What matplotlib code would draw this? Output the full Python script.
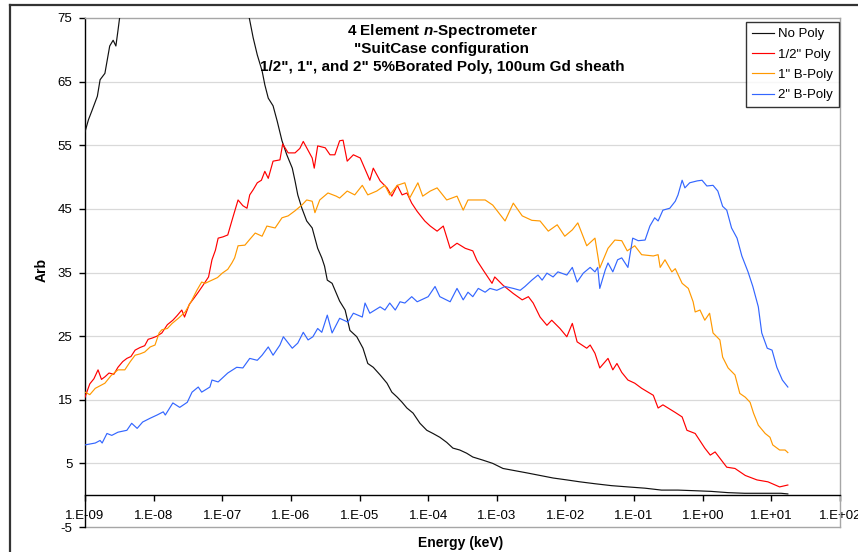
import matplotlib
matplotlib.use("Agg")
import matplotlib.pyplot as plt
from matplotlib.lines import Line2D
from matplotlib.ticker import NullLocator, FixedLocator, FixedFormatter
import numpy as np

plt.rcParams['font.family'] = ['Liberation Sans', 'DejaVu Sans']
plt.rcParams['mathtext.fontset'] = 'custom'
plt.rcParams['mathtext.it'] = 'Liberation Sans:italic:bold'
plt.rcParams['mathtext.rm'] = 'Liberation Sans:bold'
plt.rcParams['axes.unicode_minus'] = False

# ---- spectra: log10(energy / keV) and counts (arb. units) ----
nopoly_log_e = [-9.00, -8.95, -8.90, -8.82, -8.78, -8.71, -8.64, -8.59, -8.55, -8.52,
                -8.49, -8.40, -6.70, -6.61, -6.55, -6.49, -6.42, -6.38, -6.33, -6.26,
                -6.20, -6.13, -6.06, -5.98, -5.94, -5.90, -5.84, -5.77, -5.69, -5.65,
                -5.61, -5.55, -5.51, -5.47, -5.40, -5.29, -5.21, -5.14, -5.04, -4.95,
                -4.88, -4.80, -4.70, -4.60, -4.53, -4.45, -4.38, -4.31, -4.22, -4.12,
                -4.02, -3.93, -3.83, -3.73, -3.64, -3.54, -3.44, -3.35, -3.20, -3.06,
                -2.91, -2.76, -2.56, -2.37, -2.18, -1.98, -1.79, -1.57, -1.33, -1.09,
                -0.84, -0.60, -0.36, -0.11, 0.12, 0.37, 0.61, 0.85, 1.14, 1.24]
nopoly_arb = [57.1, 59.0, 60.4, 62.7, 65.3, 66.3, 70.6, 71.5, 70.6, 73.0,
              75.5, 80.0, 80.0, 75.2, 71.9, 69.2, 66.7, 64.5, 62.4, 61.2,
              58.8, 55.7, 53.5, 51.4, 49.4, 47.2, 45.1, 43.1, 42.0, 40.4,
              38.8, 37.3, 36.0, 33.8, 33.3, 30.5, 29.1, 25.9, 24.9, 23.1,
              20.7, 20.1, 18.9, 17.6, 16.2, 15.4, 14.6, 13.7, 12.9, 11.3,
              10.2, 9.7, 9.1, 8.3, 7.4, 7.1, 6.6, 6.0, 5.5, 5.0,
              4.2, 3.9, 3.5, 3.1, 2.7, 2.4, 2.1, 1.8, 1.5, 1.3,
              1.1, 0.8, 0.8, 0.7, 0.6, 0.4, 0.3, 0.3, 0.3, 0.2]

half_log_e = [-9.00, -8.93, -8.87, -8.81, -8.76, -8.71, -8.65, -8.58, -8.52, -8.45,
              -8.39, -8.33, -8.27, -8.20, -8.13, -8.08, -8.02, -7.95, -7.88, -7.80,
              -7.72, -7.66, -7.59, -7.55, -7.48, -7.41, -7.35, -7.28, -7.20, -7.15,
              -7.10, -7.06, -6.99, -6.92, -6.85, -6.77, -6.70, -6.64, -6.60, -6.55,
              -6.49, -6.43, -6.38, -6.33, -6.26, -6.16, -6.12, -6.04, -5.94, -5.87,
              -5.82, -5.75, -5.69, -5.66, -5.61, -5.50, -5.43, -5.36, -5.29, -5.24,
              -5.18, -5.09, -4.99, -4.95, -4.85, -4.80, -4.70, -4.60, -4.53, -4.45,
              -4.38, -4.31, -4.24, -4.16, -4.05, -3.97, -3.87, -3.78, -3.68, -3.58,
              -3.46, -3.35, -3.29, -3.20, -3.07, -3.03, -2.91, -2.76, -2.63, -2.54,
              -2.47, -2.37, -2.27, -2.20, -2.08, -1.98, -1.90, -1.83, -1.69, -1.64,
              -1.57, -1.50, -1.38, -1.31, -1.25, -1.18, -1.09, -0.99, -0.89, -0.72,
              -0.65, -0.58, -0.40, -0.30, -0.23, -0.11, 0.03, 0.11, 0.18, 0.35,
              0.47, 0.62, 0.79, 0.95, 1.12, 1.24]
half_arb = [15.4, 17.5, 18.3, 19.7, 18.2, 18.6, 19.2, 19.0, 20.1, 21.0,
            21.5, 21.8, 22.8, 23.2, 23.5, 24.5, 24.7, 25.0, 25.5, 26.8,
            27.5, 28.2, 29.1, 28.0, 30.0, 31.0, 31.9, 33.0, 34.3, 37.0,
            38.5, 40.4, 40.6, 40.9, 43.5, 46.4, 45.5, 45.1, 47.2, 48.0,
            49.1, 49.5, 50.9, 49.8, 52.5, 52.7, 55.2, 53.8, 53.8, 54.5,
            55.6, 54.2, 53.0, 51.4, 54.9, 54.6, 53.5, 53.5, 55.7, 55.8,
            52.5, 53.5, 53.0, 52.0, 49.5, 51.4, 49.4, 48.3, 47.0, 48.7,
            47.2, 47.5, 45.9, 44.6, 43.1, 42.3, 41.5, 42.3, 38.8, 39.6,
            38.8, 38.4, 36.9, 35.4, 33.3, 34.3, 33.0, 31.7, 30.7, 31.2,
            30.2, 28.0, 26.7, 27.5, 26.2, 24.9, 27.0, 24.1, 23.1, 23.6,
            22.3, 20.0, 21.5, 19.7, 20.7, 19.3, 18.1, 17.6, 16.8, 15.7,
            13.7, 14.2, 13.0, 12.3, 10.2, 9.7, 7.4, 6.3, 6.8, 4.4,
            4.2, 3.1, 2.4, 2.1, 1.3, 1.6]

one_log_e = [-9.00, -8.93, -8.85, -8.78, -8.71, -8.62, -8.52, -8.42, -8.34, -8.27,
             -8.20, -8.13, -8.05, -7.98, -7.92, -7.88, -7.80, -7.73, -7.64, -7.54,
             -7.45, -7.37, -7.30, -7.25, -7.15, -7.07, -7.00, -6.92, -6.86, -6.82,
             -6.77, -6.67, -6.60, -6.52, -6.42, -6.35, -6.23, -6.13, -6.04, -5.94,
             -5.84, -5.77, -5.69, -5.65, -5.58, -5.46, -5.34, -5.29, -5.18, -5.07,
             -4.96, -4.88, -4.75, -4.63, -4.56, -4.45, -4.34, -4.27, -4.15, -4.08,
             -3.97, -3.87, -3.73, -3.58, -3.49, -3.42, -3.29, -3.17, -3.06, -2.88,
             -2.76, -2.63, -2.49, -2.37, -2.25, -2.12, -2.01, -1.90, -1.82, -1.69,
             -1.57, -1.50, -1.38, -1.28, -1.18, -1.10, -0.99, -0.89, -0.72, -0.65,
             -0.62, -0.55, -0.45, -0.40, -0.30, -0.21, -0.14, -0.11, -0.04, 0.03,
             0.10, 0.15, 0.25, 0.29, 0.37, 0.47, 0.54, 0.62, 0.69, 0.74,
             0.81, 0.91, 0.98, 1.02, 1.12, 1.20, 1.24]
one_arb = [16.2, 15.8, 16.8, 17.2, 17.6, 18.8, 19.7, 19.7, 21.0, 22.0,
           22.2, 22.5, 23.3, 23.6, 25.5, 26.0, 26.2, 27.0, 27.8, 28.8,
           30.5, 32.2, 33.5, 33.3, 33.8, 34.2, 34.9, 35.5, 36.5, 37.3,
           39.2, 39.3, 40.2, 41.2, 40.7, 42.3, 42.0, 43.6, 43.9, 44.7,
           45.6, 46.4, 46.2, 44.4, 46.4, 47.5, 47.0, 46.7, 47.8, 47.2,
           48.7, 47.2, 47.8, 48.7, 47.2, 48.7, 49.1, 46.7, 49.1, 47.0,
           47.8, 48.3, 46.4, 47.0, 44.8, 46.4, 46.4, 46.4, 45.6, 43.1,
           45.9, 43.9, 43.2, 43.1, 41.5, 42.5, 40.7, 41.7, 42.8, 39.2,
           40.4, 35.7, 38.8, 40.1, 40.0, 38.4, 39.2, 37.8, 37.6, 37.8,
           35.8, 37.0, 35.1, 35.6, 33.3, 32.5, 30.4, 28.8, 29.1, 27.5,
           28.6, 25.5, 24.4, 21.7, 20.0, 18.9, 16.0, 15.4, 14.6, 12.9,
           11.0, 9.7, 9.1, 7.9, 7.1, 7.1, 6.7]

two_log_e = [-9.00, -8.85, -8.78, -8.75, -8.68, -8.61, -8.52, -8.39, -8.32, -8.24,
             -8.16, -8.05, -7.95, -7.86, -7.83, -7.72, -7.62, -7.51, -7.44, -7.35,
             -7.30, -7.18, -7.15, -7.06, -6.92, -6.79, -6.70, -6.60, -6.49, -6.42,
             -6.33, -6.26, -6.16, -6.11, -5.98, -5.90, -5.82, -5.75, -5.68, -5.61,
             -5.55, -5.47, -5.40, -5.29, -5.17, -5.09, -4.96, -4.92, -4.85, -4.70,
             -4.63, -4.56, -4.48, -4.41, -4.34, -4.24, -4.16, -4.00, -3.90, -3.83,
             -3.68, -3.58, -3.49, -3.42, -3.35, -3.27, -3.17, -3.10, -3.00, -2.88,
             -2.76, -2.66, -2.59, -2.49, -2.40, -2.34, -2.27, -2.18, -2.11, -1.98,
             -1.90, -1.83, -1.74, -1.64, -1.57, -1.53, -1.50, -1.42, -1.38, -1.31,
             -1.24, -1.18, -1.09, -1.02, -0.94, -0.84, -0.77, -0.70, -0.65, -0.58,
             -0.48, -0.40, -0.36, -0.30, -0.26, -0.19, -0.08, -0.01, 0.06, 0.15,
             0.22, 0.29, 0.35, 0.42, 0.50, 0.57, 0.66, 0.73, 0.81, 0.86,
             0.94, 1.01, 1.08, 1.16, 1.24]
two_arb = [7.9, 8.2, 8.6, 8.2, 9.7, 9.4, 9.9, 10.2, 11.3, 10.5,
           11.5, 12.1, 12.6, 13.1, 12.6, 14.5, 13.8, 14.6, 16.2, 17.0,
           16.2, 17.0, 18.1, 17.8, 19.2, 20.1, 20.0, 21.5, 21.2, 22.0,
           23.3, 22.0, 23.6, 24.9, 23.1, 23.9, 25.6, 24.4, 24.9, 26.2,
           25.6, 28.3, 25.5, 27.8, 27.2, 28.6, 28.0, 30.2, 28.6, 29.6,
           29.1, 30.2, 29.1, 30.4, 30.2, 31.2, 30.4, 31.2, 32.8, 31.2,
           30.4, 32.5, 30.7, 31.9, 31.2, 32.5, 31.9, 32.5, 32.2, 32.8,
           32.5, 32.2, 32.8, 33.8, 34.6, 33.8, 34.9, 34.3, 35.1, 34.6,
           35.8, 33.5, 34.9, 35.8, 35.1, 35.8, 32.5, 35.4, 36.5, 35.1,
           37.0, 37.3, 35.8, 40.4, 40.0, 40.1, 42.3, 43.6, 43.1, 44.8,
           45.1, 46.2, 47.2, 49.5, 48.3, 49.1, 49.4, 49.5, 48.6, 48.7,
           47.8, 45.4, 44.8, 42.0, 40.4, 37.6, 35.1, 32.8, 29.6, 25.5,
           23.1, 22.8, 20.1, 18.1, 17.0]

series_names = ['No Poly', '1/2" Poly', '1" B-Poly', '2" B-Poly']
series_log_e = [nopoly_log_e, half_log_e, one_log_e, two_log_e]
series_arb = [nopoly_arb, half_arb, one_arb, two_arb]
series_colors = ['#111111', '#ff0000', '#ff9900', '#3366ff']

decades = list(range(-9, 3))
decade_labels = ['1.E-09', '1.E-08', '1.E-07', '1.E-06', '1.E-05', '1.E-04',
                 '1.E-03', '1.E-02', '1.E-01', '1.E+00', '1.E+01', '1.E+02']
y_ticks = list(range(-5, 76, 10))

W, H = 858, 552
fig = plt.figure(figsize=(W / 100, H / 100), dpi=100)
fig.patch.set_facecolor('white')

# chart-area frame (top and left edges)
fig.add_artist(Line2D([10 / W, 1.0], [1 - 5 / H, 1 - 5 / H], color='#333333', lw=1.6,
                      transform=fig.transFigure))
fig.add_artist(Line2D([10 / W, 10 / W], [0.0, 1 - 5 / H], color='#333333', lw=1.6,
                      transform=fig.transFigure))

ax = fig.add_axes([85 / W, 25 / H, 755 / W, 509 / H])
ax.set_xscale('log')
ax.set_xlim(1e-9, 1e2)
ax.set_ylim(-5, 75)

for yv in y_ticks[1:-1]:
    ax.axhline(yv, color='#d9d9d9', lw=0.9, zorder=0)

for name, le, ya, col in zip(series_names, series_log_e, series_arb, series_colors):
    ax.plot(10.0 ** np.asarray(le), ya, color=col, lw=0.85, label=name, zorder=3)

# axes lines
ax.spines['bottom'].set_position(('data', 0))
ax.spines['bottom'].set_color('black')
ax.spines['bottom'].set_linewidth(1.0)
ax.spines['left'].set_color('black')
ax.spines['left'].set_linewidth(1.0)
for s in ('top', 'right'):
    ax.spines[s].set_color('#a6a6a6')
    ax.spines[s].set_linewidth(1.0)
ax.plot([0, 1], [0, 0], transform=ax.transAxes, color='#a6a6a6', lw=1.0,
        clip_on=False, zorder=1)

ax.xaxis.set_major_locator(FixedLocator([10.0 ** d for d in decades]))
ax.xaxis.set_major_formatter(FixedFormatter(decade_labels))
ax.xaxis.set_minor_locator(NullLocator())
ax.set_yticks(y_ticks)
ax.tick_params(axis='x', direction='out', length=4, width=1, pad=7, labelsize=9.5)
ax.tick_params(axis='y', direction='out', length=4, width=1, pad=5, labelsize=9.5)

fig.text(42 / W, 1 - 270 / H, 'Arb', rotation=90, ha='center', va='center',
         fontsize=10, fontweight='bold')
fig.text(461 / W, 1 - 543 / H, 'Energy (keV)', ha='center', va='center',
         fontsize=10, fontweight='bold')

title_lines = ['4 Element $n$-Spectrometer', '"SuitCase configuration',
               '1/2", 1", and 2" 5%Borated Poly, 100um Gd sheath']
for i, t in enumerate(title_lines):
    fig.text(442 / W, 1 - (31 + 18 * i) / H, t, ha='center', va='center',
             fontsize=11, fontweight='bold')

leg = ax.legend(loc='upper right', bbox_to_anchor=(0.9985, 0.992), borderaxespad=0,
                fontsize=9.5, frameon=True, fancybox=False, edgecolor='black',
                handlelength=1.7, handletextpad=0.3, labelspacing=0.62,
                borderpad=0.45)
leg.get_frame().set_linewidth(1.0)

fig.savefig('out.png', dpi=100, facecolor='white')
